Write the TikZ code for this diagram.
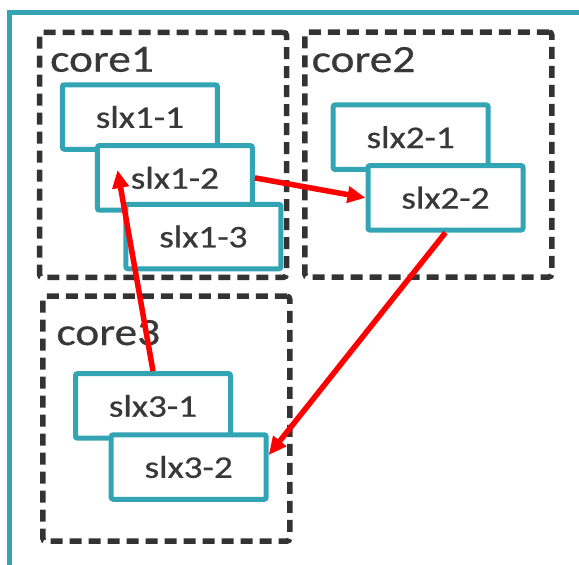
\documentclass[tikz,border=0pt]{standalone}
\usepackage{fontspec}
\setmainfont{Carlito}[FakeStretch=1.18,FakeBold=0.6]
\usetikzlibrary{arrows.meta,calc}
\definecolor{Frame}{HTML}{33A4B4}
\definecolor{Dash}{HTML}{333333}
\definecolor{Ink}{HTML}{383838}
\definecolor{Link}{HTML}{FF0000}
\tikzset{
  corebox/.style={draw=Dash,line width=5.5pt,dash pattern=on 12pt off 7pt,rounded corners=3pt,minimum width=247pt,minimum height=245pt,inner sep=0pt},
  corename/.style={anchor=base west,inner sep=0pt,text=Ink,font=\fontsize{38.5}{41}\selectfont},
  slxbox/.style={draw=Frame,fill=white,line width=5pt,rounded corners=2pt,minimum width=155pt,minimum height=64.5pt,inner sep=0pt,text=Ink,font=\fontsize{31.5}{34}\selectfont},
  link/.style={draw=Link,line width=5.5pt,-{Triangle[length=18pt,width=16pt]}},
  frame/.style={draw=Frame,line width=5pt}
}

\begin{document}
\begin{tikzpicture}[x=1pt,y=-1pt]
  \useasboundingbox (0,0) rectangle (579,565);
  \draw[frame] (9.5,565) |- (579,12.5);
  % cores
  \node[corebox] (core1) at (163,154.8) {};
  \node[corebox] (core2) at (428.3,154.5) {};
  \node[corebox] (core3) at (166.3,418.7) {};
  \node[corename] (name1) at (50,71.7) {core1};
  \node[corename] (name2) at (311.5,72) {core2};
  \node[corename] (name3) at (56.3,345) {core3};
  % slices
  \node[slxbox] (slx11) at (139.9,117) {slx1-1};
  \node[slxbox] (slx12) at (174.9,177.9) {slx1-2};
  \node[slxbox] (slx13) at (203.4,236.5) {slx1-3};
  \node[slxbox] (slx21) at (410.7,137.2) {slx2-1};
  \node[slxbox] (slx22) at (445.5,197.8) {slx2-2};
  \node[slxbox] (slx31) at (153,405.9) {slx3-1};
  \node[slxbox] (slx32) at (188.7,467) {slx3-2};
  % links
  \draw[link] (slx31.north) -- ($(slx12.west)+(22.6,-7.9)$);
  \draw[link] (slx12.east) -- (slx22.west);
  \draw[link] (slx22.south) -- ($(slx32.east)+(0,-12)$);
\end{tikzpicture}
\end{document}
